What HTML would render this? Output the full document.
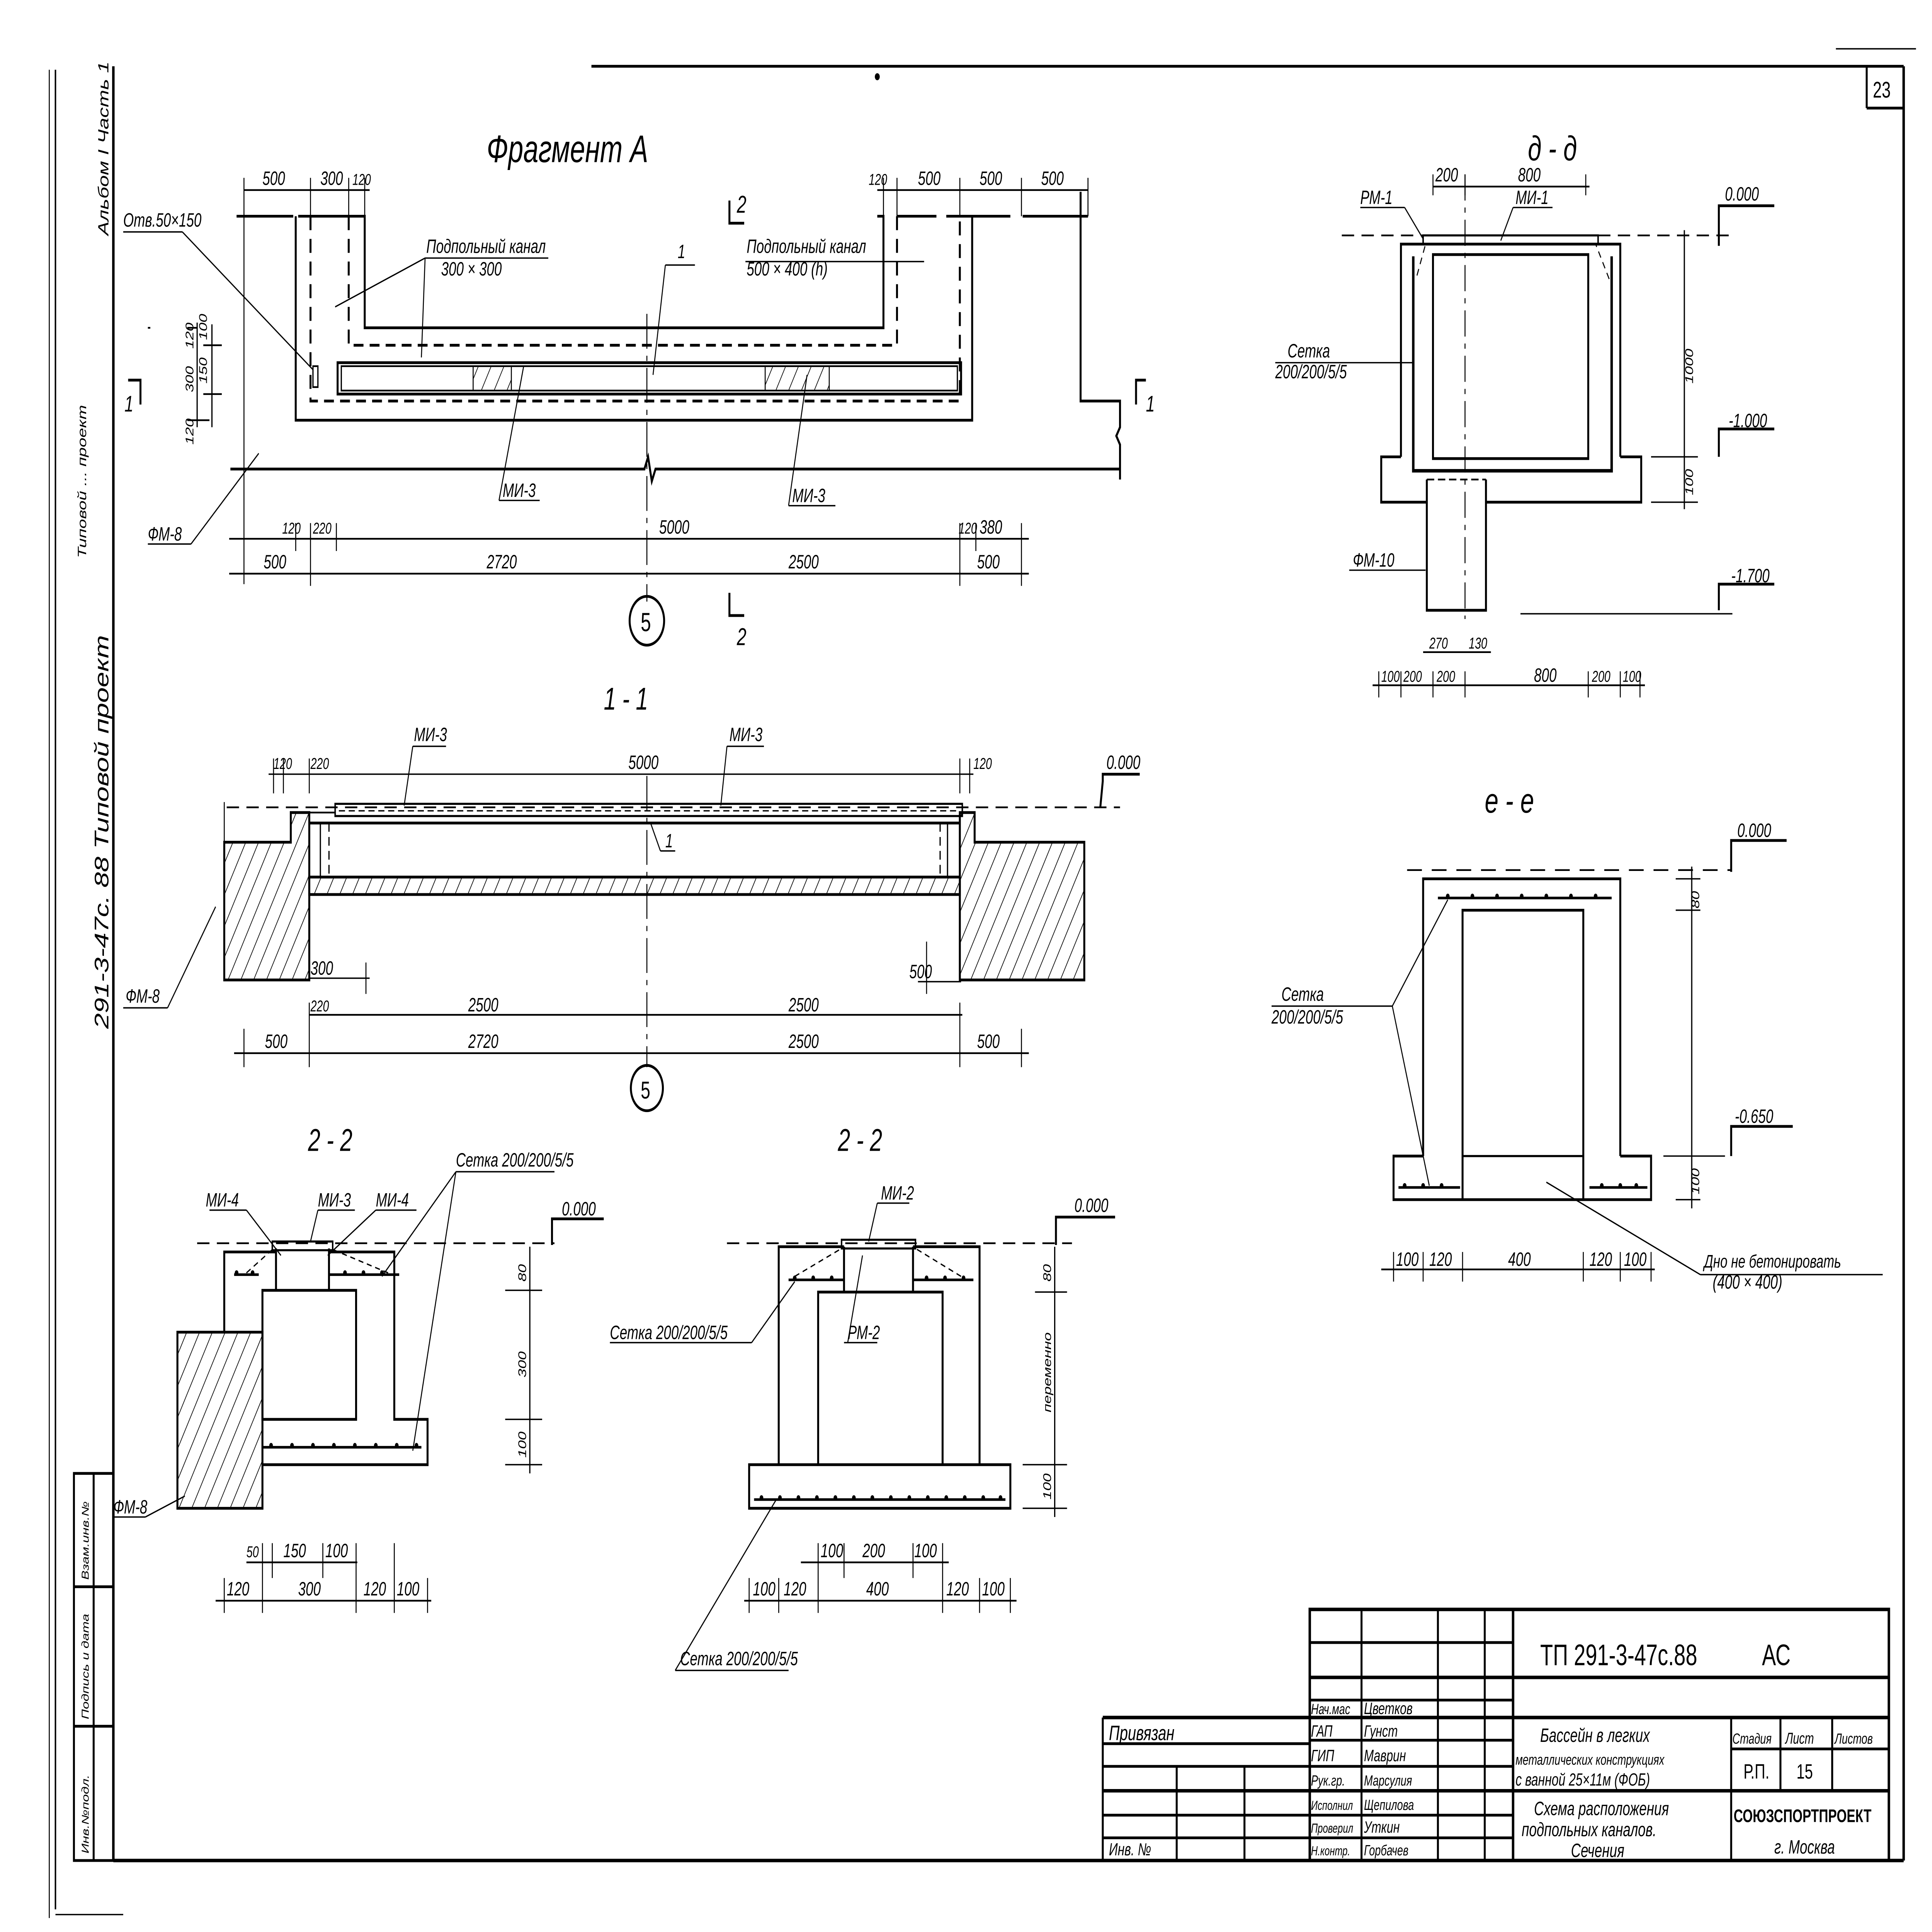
<!DOCTYPE html>
<html><head><meta charset="utf-8">
<style>
html,body{margin:0;padding:0;background:#fff;width:100%;height:100%;overflow:hidden;}
svg{display:block;position:fixed;left:0;top:0;width:100vw;height:100vh;}
text{font-family:"Liberation Sans",sans-serif;font-style:italic;fill:#000;}
</style></head>
<body>
<svg viewBox="0 0 1568 1108" preserveAspectRatio="none" xmlns="http://www.w3.org/2000/svg">
<defs>
<pattern id="h" width="9" height="9" patternUnits="userSpaceOnUse" patternTransform="rotate(30)">
<line x1="0" y1="0" x2="0" y2="9" stroke="#000" stroke-width="1"/>
</pattern>
</defs>
<rect width="1568" height="1108" fill="#fff"/>
<g stroke="#000" fill="none" stroke-width="1.6">
<!-- frame -->
<line x1="45" y1="40" x2="45" y2="1095" stroke-width="1.2"/>
<line x1="40" y1="40" x2="40" y2="1100" stroke-width="0.8"/>
<line x1="92" y1="38" x2="92" y2="1067" stroke-width="2"/>
<line x1="480" y1="38" x2="1545" y2="38"/>
<line x1="1545" y1="38" x2="1545" y2="1067" stroke-width="2"/>
<line x1="92" y1="1067" x2="1545" y2="1067" stroke-width="2"/>
<line x1="1515" y1="38" x2="1515" y2="62"/><line x1="1515" y1="62" x2="1545" y2="62"/>
<line x1="1490" y1="28" x2="1555" y2="28" stroke-width="0.8"/>
<line x1="45" y1="1098" x2="100" y2="1098" stroke-width="0.8"/>
<rect x="60" y="845" width="32" height="222"/>
<line x1="76" y1="845" x2="76" y2="1067"/>
<line x1="60" y1="910" x2="92" y2="910"/><line x1="60" y1="990" x2="92" y2="990"/>

<!-- ===== Fragment A ===== -->
<polyline points="192,124 238,124"/><polyline points="242,124 296,124 296,188 717,188 717,124 712,124"/>
<polyline points="240,124 240,241 789,241 789,124"/>
<polyline points="728,124 760,124"/><polyline points="768,124 820,124"/><polyline points="830,124 883,124"/>
<polyline points="252,124 252,230 779,230 779,124" stroke-dasharray="8,5"/>
<polyline points="283,124 283,198 728,198 728,124" stroke-dasharray="8,5"/>
<rect x="274" y="208" width="506" height="18"/>
<rect x="277" y="210" width="500" height="14" stroke-width="1"/>
<rect x="384" y="210" width="31" height="14" fill="url(#h)" stroke-width="0.8"/>
<rect x="621" y="210" width="52" height="14" fill="url(#h)" stroke-width="0.8"/>
<rect x="254" y="210" width="4" height="12" stroke-width="1"/>
<polyline points="187,269 523,269 526,262 529,276 532,269 909,269"/>
<polyline points="877,110 877,230 909,230 909,245 906,250 909,255 909,275"/>
<line x1="525" y1="180" x2="525" y2="345" stroke-width="0.8" stroke-dasharray="20,4,3,4"/>
<line x1="198" y1="109" x2="300" y2="109" stroke-width="1"/>
<line x1="712" y1="109" x2="883" y2="109" stroke-width="1"/>
<line x1="198" y1="102" x2="198" y2="335" stroke-width="0.8"/>
<g stroke-width="0.8"><line x1="252" y1="102" x2="252" y2="124"/><line x1="283" y1="102" x2="283" y2="124"/><line x1="296" y1="102" x2="296" y2="124"/><line x1="717" y1="102" x2="717" y2="124"/><line x1="728" y1="102" x2="728" y2="124"/><line x1="779" y1="102" x2="779" y2="124"/><line x1="829" y1="102" x2="829" y2="124"/><line x1="883" y1="102" x2="883" y2="124"/></g>
<g stroke-width="1"><line x1="152" y1="188" x2="160" y2="188"/><line x1="160" y1="185" x2="160" y2="245"/><line x1="152" y1="241" x2="170" y2="241"/><line x1="120" y1="188" x2="122" y2="188"/><line x1="172" y1="186" x2="172" y2="245"/><line x1="165" y1="198" x2="180" y2="198"/><line x1="165" y1="226" x2="180" y2="226"/></g>
<line x1="186" y1="309" x2="835" y2="309" stroke-width="1"/>
<line x1="186" y1="329" x2="835" y2="329" stroke-width="1"/>
<g stroke-width="0.8"><line x1="240" y1="300" x2="240" y2="316"/><line x1="252" y1="300" x2="252" y2="336"/><line x1="273" y1="300" x2="273" y2="316"/><line x1="779" y1="300" x2="779" y2="336"/><line x1="792" y1="300" x2="792" y2="316"/><line x1="829" y1="300" x2="829" y2="336"/></g>
<circle cx="525" cy="356" r="14"/>
<polyline points="592,115 592,128 604,128"/>
<polyline points="592,340 592,353 604,353"/>
<polyline points="104,218 114,218 114,232"/><polyline points="930,218 922,218 922,232"/>
<g stroke-width="0.8"><line x1="120" y1="312" x2="155" y2="312"/><line x1="155" y1="312" x2="210" y2="260"/>
<line x1="100" y1="133" x2="148" y2="133"/><line x1="148" y1="133" x2="254" y2="212"/>
<line x1="405" y1="287" x2="438" y2="287"/><line x1="405" y1="287" x2="425" y2="210"/>
<line x1="640" y1="290" x2="678" y2="290"/><line x1="640" y1="290" x2="655" y2="215"/>
<line x1="345" y1="148" x2="445" y2="148"/><line x1="345" y1="148" x2="272" y2="176"/><line x1="345" y1="148" x2="342" y2="205"/>
<line x1="605" y1="150" x2="750" y2="150"/>
<line x1="540" y1="152" x2="564" y2="152"/><line x1="540" y1="152" x2="530" y2="215"/></g>

<!-- ===== 1-1 ===== -->
<line x1="184" y1="463" x2="909" y2="463" stroke-dasharray="10,6" stroke-width="1"/>
<rect x="272" y="461" width="509" height="7" stroke-width="1.2"/>
<line x1="275" y1="465" x2="778" y2="465" stroke-width="0.8" stroke-dasharray="5,3"/>
<polygon points="182,483 236,483 236,466 251,466 251,562 182,562" fill="url(#h)"/>
<polygon points="779,466 791,466 791,483 880,483 880,562 779,562" fill="url(#h)"/>
<rect x="251" y="503" width="528" height="10" fill="url(#h)"/>
<line x1="251" y1="472" x2="779" y2="472"/>
<line x1="244" y1="466" x2="272" y2="466" stroke-width="1"/>
<g stroke-width="1"><line x1="260" y1="472" x2="260" y2="503"/><line x1="267" y1="472" x2="267" y2="503" stroke-dasharray="5,3"/><line x1="769" y1="472" x2="769" y2="503"/><line x1="763" y1="472" x2="763" y2="503" stroke-dasharray="5,3"/></g>
<line x1="525" y1="445" x2="525" y2="612" stroke-width="0.8" stroke-dasharray="20,4,3,4"/>
<line x1="218" y1="444" x2="790" y2="444" stroke-width="0.8"/>
<g stroke-width="0.8"><line x1="222" y1="435" x2="222" y2="455"/><line x1="230" y1="435" x2="230" y2="455"/><line x1="251" y1="435" x2="251" y2="455"/><line x1="779" y1="435" x2="779" y2="455"/><line x1="787" y1="435" x2="787" y2="455"/>
<line x1="182" y1="460" x2="182" y2="562"/></g>
<line x1="251" y1="582" x2="781" y2="582" stroke-width="1"/>
<line x1="190" y1="604" x2="835" y2="604" stroke-width="1"/>
<line x1="251" y1="561" x2="300" y2="561" stroke-width="0.8"/><line x1="297" y1="552" x2="297" y2="570" stroke-width="0.8"/>
<line x1="745" y1="563" x2="780" y2="563" stroke-width="0.8"/><line x1="752" y1="540" x2="752" y2="570" stroke-width="0.8"/>
<g stroke-width="0.8"><line x1="198" y1="590" x2="198" y2="612"/><line x1="251" y1="575" x2="251" y2="612"/><line x1="779" y1="575" x2="779" y2="612"/><line x1="829" y1="590" x2="829" y2="612"/></g>
<circle cx="525" cy="624" r="13"/>
<polyline points="893,463 895,448 895,444 925,444"/>
<line x1="100" y1="578" x2="136" y2="578" stroke-width="0.8"/><line x1="136" y1="578" x2="175" y2="520" stroke-width="0.8"/>
<line x1="536" y1="488" x2="528" y2="472" stroke-width="0.8"/><line x1="536" y1="488" x2="548" y2="488" stroke-width="0.8"/>
<line x1="335" y1="428" x2="362" y2="428" stroke-width="0.8"/><line x1="335" y1="428" x2="328" y2="462" stroke-width="0.8"/>
<line x1="590" y1="428" x2="620" y2="428" stroke-width="0.8"/><line x1="590" y1="428" x2="585" y2="462" stroke-width="0.8"/>

<!-- ===== д-д ===== -->
<polyline points="1137,262 1137,140 1315,140 1315,262"/>
<rect x="1163" y="146" width="126" height="117"/>
<polyline points="1137,262 1121,262 1121,288 1158,288"/><polyline points="1206,288 1332,288 1332,262 1315,262"/>
<polyline points="1158,275 1158,350 1206,350 1206,275" />
<line x1="1158" y1="275" x2="1206" y2="275" stroke-dasharray="6,3" stroke-width="1"/>
<polyline points="1147,147 1147,270 1308,270 1308,147" stroke-width="2"/>
<rect x="1155" y="135" width="142" height="5" stroke-width="1.2"/>
<line x1="1089" y1="135" x2="1407" y2="135" stroke-dasharray="10,6" stroke-width="1"/>
<line x1="1189" y1="100" x2="1189" y2="355" stroke-width="0.8" stroke-dasharray="15,4,3,4"/>
<line x1="1367" y1="132" x2="1367" y2="292" stroke-width="1"/>
<line x1="1340" y1="262" x2="1378" y2="262" stroke-width="0.8"/><line x1="1340" y1="288" x2="1378" y2="288" stroke-width="0.8"/>
<line x1="1163" y1="107" x2="1290" y2="107" stroke-width="1"/>
<line x1="1114" y1="393" x2="1335" y2="393" stroke-width="1"/>
<line x1="1155" y1="374" x2="1210" y2="374" stroke-width="1"/>
<g stroke-width="0.8"><line x1="1163" y1="100" x2="1163" y2="112"/><line x1="1189" y1="100" x2="1189" y2="112"/><line x1="1287" y1="100" x2="1287" y2="112"/>
<line x1="1119" y1="385" x2="1119" y2="400"/><line x1="1137" y1="385" x2="1137" y2="400"/><line x1="1163" y1="385" x2="1163" y2="400"/><line x1="1189" y1="385" x2="1189" y2="400"/><line x1="1289" y1="385" x2="1289" y2="400"/><line x1="1315" y1="385" x2="1315" y2="400"/><line x1="1331" y1="385" x2="1331" y2="400"/></g>
<polyline points="1395,141 1395,118 1440,118"/>
<polyline points="1395,262 1395,246 1440,246"/>
<polyline points="1395,350 1395,335 1440,335"/>
<line x1="1234" y1="352" x2="1406" y2="352" stroke-width="0.8"/>
<line x1="1104" y1="119" x2="1140" y2="119" stroke-width="0.8"/><line x1="1140" y1="119" x2="1155" y2="137" stroke-width="0.8"/>
<line x1="1228" y1="119" x2="1260" y2="119" stroke-width="0.8"/><line x1="1228" y1="119" x2="1218" y2="138" stroke-width="0.8"/>
<line x1="1035" y1="208" x2="1147" y2="208" stroke-width="0.8"/>
<line x1="1095" y1="327" x2="1157" y2="327" stroke-width="0.8"/>

<!-- ===== е-е ===== -->
<polyline points="1155,663 1155,504 1315,504 1315,663"/>
<polyline points="1187,688 1187,522 1285,522 1285,688"/>
<line x1="1187" y1="663" x2="1285" y2="663" stroke-width="1.2"/>
<polyline points="1155,663 1131,663 1131,688 1340,688 1340,663 1315,663"/>
<line x1="1167" y1="515" x2="1308" y2="515" stroke-width="1.5"/>
<line x1="1135" y1="681" x2="1185" y2="681" stroke-width="1.5"/><line x1="1290" y1="681" x2="1337" y2="681" stroke-width="1.5"/>
<line x1="1142" y1="499" x2="1405" y2="499" stroke-dasharray="12,8" stroke-width="1"/>
<polyline points="1405,500 1405,482 1450,482"/>
<polyline points="1405,663 1405,646 1455,646"/>
<line x1="1373" y1="497" x2="1373" y2="693" stroke-width="1"/>
<g stroke-width="0.8"><line x1="1360" y1="504" x2="1380" y2="504"/><line x1="1360" y1="522" x2="1380" y2="522"/><line x1="1350" y1="663" x2="1400" y2="663"/><line x1="1360" y1="688" x2="1380" y2="688"/></g>
<line x1="1121" y1="728" x2="1343" y2="728" stroke-width="1"/>
<g stroke-width="0.8"><line x1="1131" y1="718" x2="1131" y2="735"/><line x1="1155" y1="718" x2="1155" y2="735"/><line x1="1187" y1="718" x2="1187" y2="735"/><line x1="1285" y1="718" x2="1285" y2="735"/><line x1="1315" y1="718" x2="1315" y2="735"/><line x1="1340" y1="718" x2="1340" y2="735"/></g>
<line x1="1032" y1="577" x2="1130" y2="577" stroke-width="0.8"/>
<line x1="1130" y1="577" x2="1175" y2="516" stroke-width="0.8"/>
<line x1="1130" y1="577" x2="1160" y2="680" stroke-width="0.8"/>
<line x1="1255" y1="678" x2="1380" y2="731" stroke-width="0.8"/><line x1="1380" y1="731" x2="1528" y2="731" stroke-width="0.8"/>

<!-- ===== 2-2 left ===== -->
<polygon points="144,764 213,764 213,865 144,865" fill="url(#h)"/>
<polyline points="182,764 182,718 224,718"/><polyline points="267,718 320,718 320,814 347,814 347,840 213,840"/>
<rect x="213" y="740" width="76" height="74"/>
<polyline points="224,716 224,740"/><polyline points="267,716 267,740"/>
<rect x="221" y="712" width="49" height="5" stroke-width="1.2"/>
<line x1="160" y1="713" x2="450" y2="713" stroke-dasharray="10,6" stroke-width="1"/>
<polyline points="448,714 448,699 490,699"/>
<line x1="430" y1="715" x2="430" y2="845" stroke-width="1"/>
<g stroke-width="0.8"><line x1="410" y1="740" x2="440" y2="740"/><line x1="410" y1="814" x2="440" y2="814"/><line x1="410" y1="840" x2="440" y2="840"/></g>
<line x1="200" y1="896" x2="290" y2="896" stroke-width="1"/>
<line x1="175" y1="918" x2="350" y2="918" stroke-width="1"/>
<g stroke-width="0.8"><line x1="213" y1="885" x2="213" y2="925"/><line x1="221" y1="885" x2="221" y2="905"/><line x1="262" y1="885" x2="262" y2="905"/><line x1="289" y1="885" x2="289" y2="925"/><line x1="182" y1="905" x2="182" y2="925"/><line x1="320" y1="885" x2="320" y2="925"/><line x1="347" y1="905" x2="347" y2="925"/></g>
<line x1="370" y1="672" x2="450" y2="672" stroke-width="0.8"/>
<line x1="370" y1="672" x2="335" y2="832" stroke-width="0.8"/>
<line x1="370" y1="672" x2="310" y2="732" stroke-width="0.8"/>
<line x1="170" y1="694" x2="200" y2="694" stroke-width="0.8"/><line x1="200" y1="694" x2="228" y2="720" stroke-width="0.8"/>
<line x1="258" y1="694" x2="288" y2="694" stroke-width="0.8"/><line x1="258" y1="694" x2="252" y2="712" stroke-width="0.8"/>
<line x1="305" y1="694" x2="338" y2="694" stroke-width="0.8"/><line x1="305" y1="694" x2="266" y2="720" stroke-width="0.8"/>
<line x1="92" y1="870" x2="118" y2="870" stroke-width="0.8"/><line x1="118" y1="870" x2="150" y2="858" stroke-width="0.8"/>
<line x1="190" y1="731" x2="210" y2="731" stroke-width="1.5"/><line x1="255" y1="731" x2="312" y2="731" stroke-width="1.5" transform="translate(12,0)"/>
<line x1="213" y1="830" x2="342" y2="830" stroke-width="1.5"/>

<!-- ===== 2-2 right ===== -->
<polyline points="632,840 632,715 685,715"/><polyline points="741,715 795,715 795,840"/>
<rect x="608" y="840" width="212" height="25"/>
<polyline points="664,840 664,741 765,741 765,840"/>
<polyline points="685,715 685,741"/><polyline points="741,715 741,741"/>
<rect x="683" y="711" width="60" height="5" stroke-width="1.2"/>
<line x1="590" y1="713" x2="870" y2="713" stroke-dasharray="10,6" stroke-width="1"/>
<polyline points="857,714 857,698 905,698"/>
<line x1="856" y1="715" x2="856" y2="870" stroke-width="1"/>
<g stroke-width="0.8"><line x1="840" y1="741" x2="866" y2="741"/><line x1="830" y1="840" x2="866" y2="840"/><line x1="830" y1="865" x2="866" y2="865"/></g>
<line x1="604" y1="918" x2="825" y2="918" stroke-width="1"/>
<line x1="650" y1="896" x2="770" y2="896" stroke-width="1"/>
<g stroke-width="0.8"><line x1="608" y1="905" x2="608" y2="925"/><line x1="632" y1="905" x2="632" y2="925"/><line x1="664" y1="885" x2="664" y2="925"/><line x1="685" y1="885" x2="685" y2="905"/><line x1="741" y1="885" x2="741" y2="905"/><line x1="765" y1="885" x2="765" y2="925"/><line x1="795" y1="905" x2="795" y2="925"/><line x1="820" y1="905" x2="820" y2="925"/></g>
<line x1="495" y1="770" x2="610" y2="770" stroke-width="0.8"/><line x1="610" y1="770" x2="645" y2="735" stroke-width="0.8"/>
<line x1="685" y1="770" x2="712" y2="770" stroke-width="0.8"/><line x1="688" y1="770" x2="700" y2="720" stroke-width="0.8"/>
<line x1="548" y1="958" x2="640" y2="958" stroke-width="0.8"/><line x1="548" y1="958" x2="630" y2="860" stroke-width="0.8"/>
<line x1="712" y1="690" x2="738" y2="690" stroke-width="0.8"/><line x1="712" y1="690" x2="705" y2="712" stroke-width="0.8"/>
<line x1="640" y1="734" x2="685" y2="734" stroke-width="1.5"/><line x1="741" y1="734" x2="790" y2="734" stroke-width="1.5"/>
<line x1="612" y1="860" x2="816" y2="860" stroke-width="1.5"/>

<g stroke-width="0.8" stroke-dasharray="4,3">
<line x1="200" y1="730" x2="222" y2="716"/><line x1="315" y1="730" x2="268" y2="716"/>
<line x1="645" y1="732" x2="683" y2="716"/><line x1="780" y1="732" x2="743" y2="716"/>
<line x1="1150" y1="158" x2="1157" y2="140"/><line x1="1306" y1="160" x2="1295" y2="140"/>
</g>

<!-- title block -->
<rect x="1063" y="923" width="470" height="144" stroke-width="2"/>
<line x1="1228" y1="923" x2="1228" y2="1067" stroke-width="2"/>
<line x1="1105" y1="923" x2="1105" y2="1067"/><line x1="1167" y1="923" x2="1167" y2="1067"/><line x1="1205" y1="923" x2="1205" y2="1067"/>
<g><line x1="1063" y1="942" x2="1228" y2="942"/><line x1="1063" y1="962" x2="1533" y2="962" stroke-width="2"/><line x1="1063" y1="975" x2="1228" y2="975"/>
<line x1="895" y1="985" x2="1533" y2="985" stroke-width="2"/><line x1="1063" y1="998" x2="1228" y2="998"/><line x1="1063" y1="1013" x2="1228" y2="1013"/>
<line x1="895" y1="1027" x2="1533" y2="1027" stroke-width="2"/><line x1="1063" y1="1041" x2="1228" y2="1041"/><line x1="1063" y1="1054" x2="1228" y2="1054"/>
<line x1="1405" y1="985" x2="1405" y2="1067"/><line x1="1445" y1="985" x2="1445" y2="1027"/><line x1="1487" y1="985" x2="1487" y2="1027"/><line x1="1405" y1="1003" x2="1533" y2="1003"/>
<line x1="895" y1="985" x2="895" y2="1067"/><line x1="895" y1="1000" x2="1063" y2="1000"/><line x1="895" y1="1013" x2="1063" y2="1013"/><line x1="895" y1="1041" x2="1063" y2="1041"/><line x1="895" y1="1054" x2="1063" y2="1054"/>
<line x1="955" y1="1013" x2="955" y2="1067"/><line x1="1010" y1="1013" x2="1010" y2="1067"/></g>
</g>

<g fill="#000">
<circle cx="1175" cy="514" r="1.5"/><circle cx="1195" cy="514" r="1.5"/><circle cx="1215" cy="514" r="1.5"/><circle cx="1235" cy="514" r="1.5"/><circle cx="1255" cy="514" r="1.5"/><circle cx="1275" cy="514" r="1.5"/><circle cx="1295" cy="514" r="1.5"/>
<circle cx="1140" cy="680" r="1.5"/><circle cx="1155" cy="680" r="1.5"/><circle cx="1170" cy="680" r="1.5"/><circle cx="1300" cy="680" r="1.5"/><circle cx="1315" cy="680" r="1.5"/><circle cx="1328" cy="680" r="1.5"/>
<circle cx="220" cy="829" r="1.5"/><circle cx="237" cy="829" r="1.5"/><circle cx="254" cy="829" r="1.5"/><circle cx="271" cy="829" r="1.5"/><circle cx="288" cy="829" r="1.5"/><circle cx="305" cy="829" r="1.5"/><circle cx="322" cy="829" r="1.5"/><circle cx="338" cy="829" r="1.5"/>
<circle cx="618" cy="859" r="1.5"/><circle cx="633" cy="859" r="1.5"/><circle cx="648" cy="859" r="1.5"/><circle cx="663" cy="859" r="1.5"/><circle cx="678" cy="859" r="1.5"/><circle cx="693" cy="859" r="1.5"/><circle cx="708" cy="859" r="1.5"/><circle cx="723" cy="859" r="1.5"/><circle cx="738" cy="859" r="1.5"/><circle cx="753" cy="859" r="1.5"/><circle cx="768" cy="859" r="1.5"/><circle cx="783" cy="859" r="1.5"/><circle cx="798" cy="859" r="1.5"/><circle cx="812" cy="859" r="1.5"/>
<circle cx="645" cy="733" r="1.5"/><circle cx="660" cy="733" r="1.5"/><circle cx="675" cy="733" r="1.5"/><circle cx="752" cy="733" r="1.5"/><circle cx="767" cy="733" r="1.5"/><circle cx="782" cy="733" r="1.5"/>
<circle cx="192" cy="730" r="1.5"/><circle cx="205" cy="730" r="1.5"/><circle cx="280" cy="730" r="1.5"/><circle cx="295" cy="730" r="1.5"/><circle cx="310" cy="730" r="1.5"/>
<circle cx="712" cy="44" r="2"/>
</g>

<g font-size="11">
<text x="1520" y="56" font-size="13" style="font-style:normal">23</text>
<text x="395" y="93" font-size="22">Фрагмент  А</text>
<text x="1240" y="92" font-size="20">д - д</text>
<text x="1205" y="466" font-size="20">е - е</text>
<text x="490" y="407" font-size="18">1 - 1</text>
<text x="250" y="660" font-size="18">2 - 2</text>
<text x="680" y="660" font-size="18">2 - 2</text>
<text x="213" y="106">500</text><text x="260" y="106">300</text><text x="286" y="106" font-size="9">120</text>
<text x="705" y="106" font-size="9">120</text><text x="745" y="106">500</text><text x="795" y="106">500</text><text x="845" y="106">500</text>
<text x="100" y="130">Отв.50×150</text>
<text x="346" y="145">Подпольный канал</text><text x="358" y="158">300 × 300</text>
<text x="606" y="145">Подпольный канал</text><text x="606" y="158">500 × 400 (h)</text>
<text x="598" y="122" font-size="14">2</text><text x="550" y="148">1</text>
<text x="101" y="236" font-size="13">1</text><text x="930" y="236" font-size="13">1</text>
<text x="408" y="285">МИ-3</text><text x="643" y="288">МИ-3</text>
<text x="120" y="310">ФМ-8</text>
<text x="229" y="306" font-size="9">120</text><text x="254" y="306" font-size="9">220</text><text x="535" y="306">5000</text><text x="778" y="306" font-size="9">120</text><text x="795" y="306">380</text>
<text x="214" y="326">500</text><text x="395" y="326">2720</text><text x="640" y="326">2500</text><text x="793" y="326">500</text>
<text x="520" y="362" font-size="15" style="font-style:normal">5</text>
<text x="598" y="370" font-size="14">2</text>
<text x="336" y="425">МИ-3</text><text x="592" y="425">МИ-3</text>
<text x="222" y="441" font-size="9">120</text><text x="252" y="441" font-size="9">220</text><text x="510" y="441">5000</text><text x="790" y="441" font-size="9">120</text>
<text x="898" y="441">0.000</text>
<text x="540" y="486">1</text>
<text x="252" y="559">300</text><text x="738" y="561">500</text>
<text x="252" y="580" font-size="9">220</text><text x="380" y="580">2500</text><text x="640" y="580">2500</text>
<text x="215" y="601">500</text><text x="380" y="601">2720</text><text x="640" y="601">2500</text><text x="793" y="601">500</text>
<text x="102" y="575">ФМ-8</text>
<text x="520" y="630" font-size="14" style="font-style:normal">5</text>
<text x="1165" y="104">200</text><text x="1232" y="104">800</text>
<text x="1104" y="117">РМ-1</text><text x="1230" y="117">МИ-1</text>
<text x="1400" y="115">0.000</text>
<text x="1045" y="205">Сетка</text><text x="1035" y="217">200/200/5/5</text>
<text x="1403" y="245">-1.000</text>
<text x="1405" y="334">-1.700</text>
<text x="1098" y="325">ФМ-10</text>
<text x="1160" y="372" font-size="9">270</text><text x="1192" y="372" font-size="9">130</text>
<text x="1121" y="391" font-size="9">100</text><text x="1139" y="391" font-size="9">200</text><text x="1166" y="391" font-size="9">200</text><text x="1245" y="391">800</text><text x="1292" y="391" font-size="9">200</text><text x="1317" y="391" font-size="9">100</text>
<text x="1410" y="480">0.000</text>
<text x="1040" y="574">Сетка</text><text x="1032" y="587">200/200/5/5</text>
<text x="1408" y="644">-0.650</text>
<text x="1133" y="726">100</text><text x="1160" y="726">120</text><text x="1224" y="726">400</text><text x="1290" y="726">120</text><text x="1318" y="726">100</text>
<text x="1383" y="727" font-size="10.5">Дно не бетонировать</text><text x="1390" y="739">(400 × 400)</text>
<text x="370" y="669">Сетка 200/200/5/5</text>
<text x="167" y="692">МИ-4</text><text x="258" y="692">МИ-3</text><text x="305" y="692">МИ-4</text>
<text x="456" y="697">0.000</text>
<text x="92" y="868">ФМ-8</text>
<text x="200" y="893" font-size="9">50</text><text x="230" y="893">150</text><text x="264" y="893">100</text>
<text x="184" y="915">120</text><text x="242" y="915">300</text><text x="295" y="915">120</text><text x="322" y="915">100</text>
<text x="715" y="688">МИ-2</text><text x="872" y="695">0.000</text>
<text x="495" y="768">Сетка 200/200/5/5</text>
<text x="688" y="768">РМ-2</text>
<text x="666" y="893">100</text><text x="700" y="893">200</text><text x="742" y="893">100</text>
<text x="611" y="915">100</text><text x="636" y="915">120</text><text x="703" y="915">400</text><text x="768" y="915">120</text><text x="797" y="915">100</text>
<text x="552" y="955">Сетка 200/200/5/5</text>
</g>
<g font-size="9">
<text transform="translate(1374,220) rotate(-90)">1000</text>
<text transform="translate(1374,284) rotate(-90)">100</text>
<text transform="translate(1379,521) rotate(-90)">80</text>
<text transform="translate(1379,685) rotate(-90)">100</text>
<text transform="translate(427,790) rotate(-90)">300</text>
<text transform="translate(427,735) rotate(-90)">80</text>
<text transform="translate(427,836) rotate(-90)">100</text>
<text transform="translate(853,735) rotate(-90)">80</text>
<text transform="translate(853,810) rotate(-90)">переменно</text>
<text transform="translate(853,860) rotate(-90)">100</text>
<text transform="translate(157,200) rotate(-90)">120</text>
<text transform="translate(157,225) rotate(-90)">300</text>
<text transform="translate(157,255) rotate(-90)">120</text>
<text transform="translate(168,195) rotate(-90)">100</text>
<text transform="translate(168,220) rotate(-90)">150</text>
</g>
<g font-size="16">
<text transform="translate(88,590) rotate(-90)">291-3-47с. 88   Типовой проект</text>
<text transform="translate(88,135) rotate(-90)" font-size="12">Альбом I   Часть 1</text>
<text transform="translate(70,320) rotate(-90)" font-size="10">Типовой ... проект</text>
</g>
<g font-size="8">
<text transform="translate(72,1063) rotate(-90)">Инв.№подл.</text>
<text transform="translate(72,986) rotate(-90)">Подпись и дата</text>
<text transform="translate(72,906) rotate(-90)">Взам.инв.№</text>
</g>
<text x="1250" y="955" font-size="17" style="font-style:normal">ТП 291-3-47с.88</text>
<text x="1430" y="955" font-size="17" style="font-style:normal">АС</text>
<g font-size="9.5">
<text x="1064" y="983" font-size="8.5">Нач.мас</text><text x="1107" y="983">Цветков</text>
<text x="1064" y="996">ГАП</text><text x="1107" y="996">Гунст</text>
<text x="1064" y="1010">ГИП</text><text x="1107" y="1010">Маврин</text>
<text x="1064" y="1024" font-size="8.5">Рук.гр.</text><text x="1107" y="1024" font-size="8.5">Марсулия</text>
<text x="1064" y="1038" font-size="7.5">Исполнил</text><text x="1107" y="1038" font-size="8.5">Щепилова</text>
<text x="1064" y="1051" font-size="7.5">Проверил</text><text x="1107" y="1051">Уткин</text>
<text x="1064" y="1064" font-size="7.5">Н.контр.</text><text x="1107" y="1064" font-size="8.5">Горбачев</text>
<text x="1250" y="999" font-size="11">Бассейн в легких</text>
<text x="1230" y="1012" font-size="8.5">металлических конструкциях</text>
<text x="1230" y="1024" font-size="10">с ванной 25×11м    (ФОБ)</text>
<text x="1245" y="1041" font-size="11">Схема расположения</text>
<text x="1235" y="1053" font-size="11">подпольных каналов.</text>
<text x="1275" y="1065" font-size="11">Сечения</text>
<text x="1406" y="1000" font-size="8.5">Стадия</text><text x="1449" y="1000" font-size="9">Лист</text><text x="1489" y="1000" font-size="8.5">Листов</text>
<text x="1415" y="1020" font-size="12" style="font-style:normal">Р.П.</text><text x="1458" y="1020" font-size="12" style="font-style:normal">15</text>
<text x="1407" y="1045" font-size="10.5" style="font-style:normal;font-weight:bold">СОЮЗСПОРТПРОЕКТ</text>
<text x="1440" y="1063" font-size="11">г. Москва</text>
<text x="900" y="998" font-size="12">Привязан</text>
<text x="900" y="1064" font-size="10">Инв. №</text>
</g>
</svg>
</body></html>
